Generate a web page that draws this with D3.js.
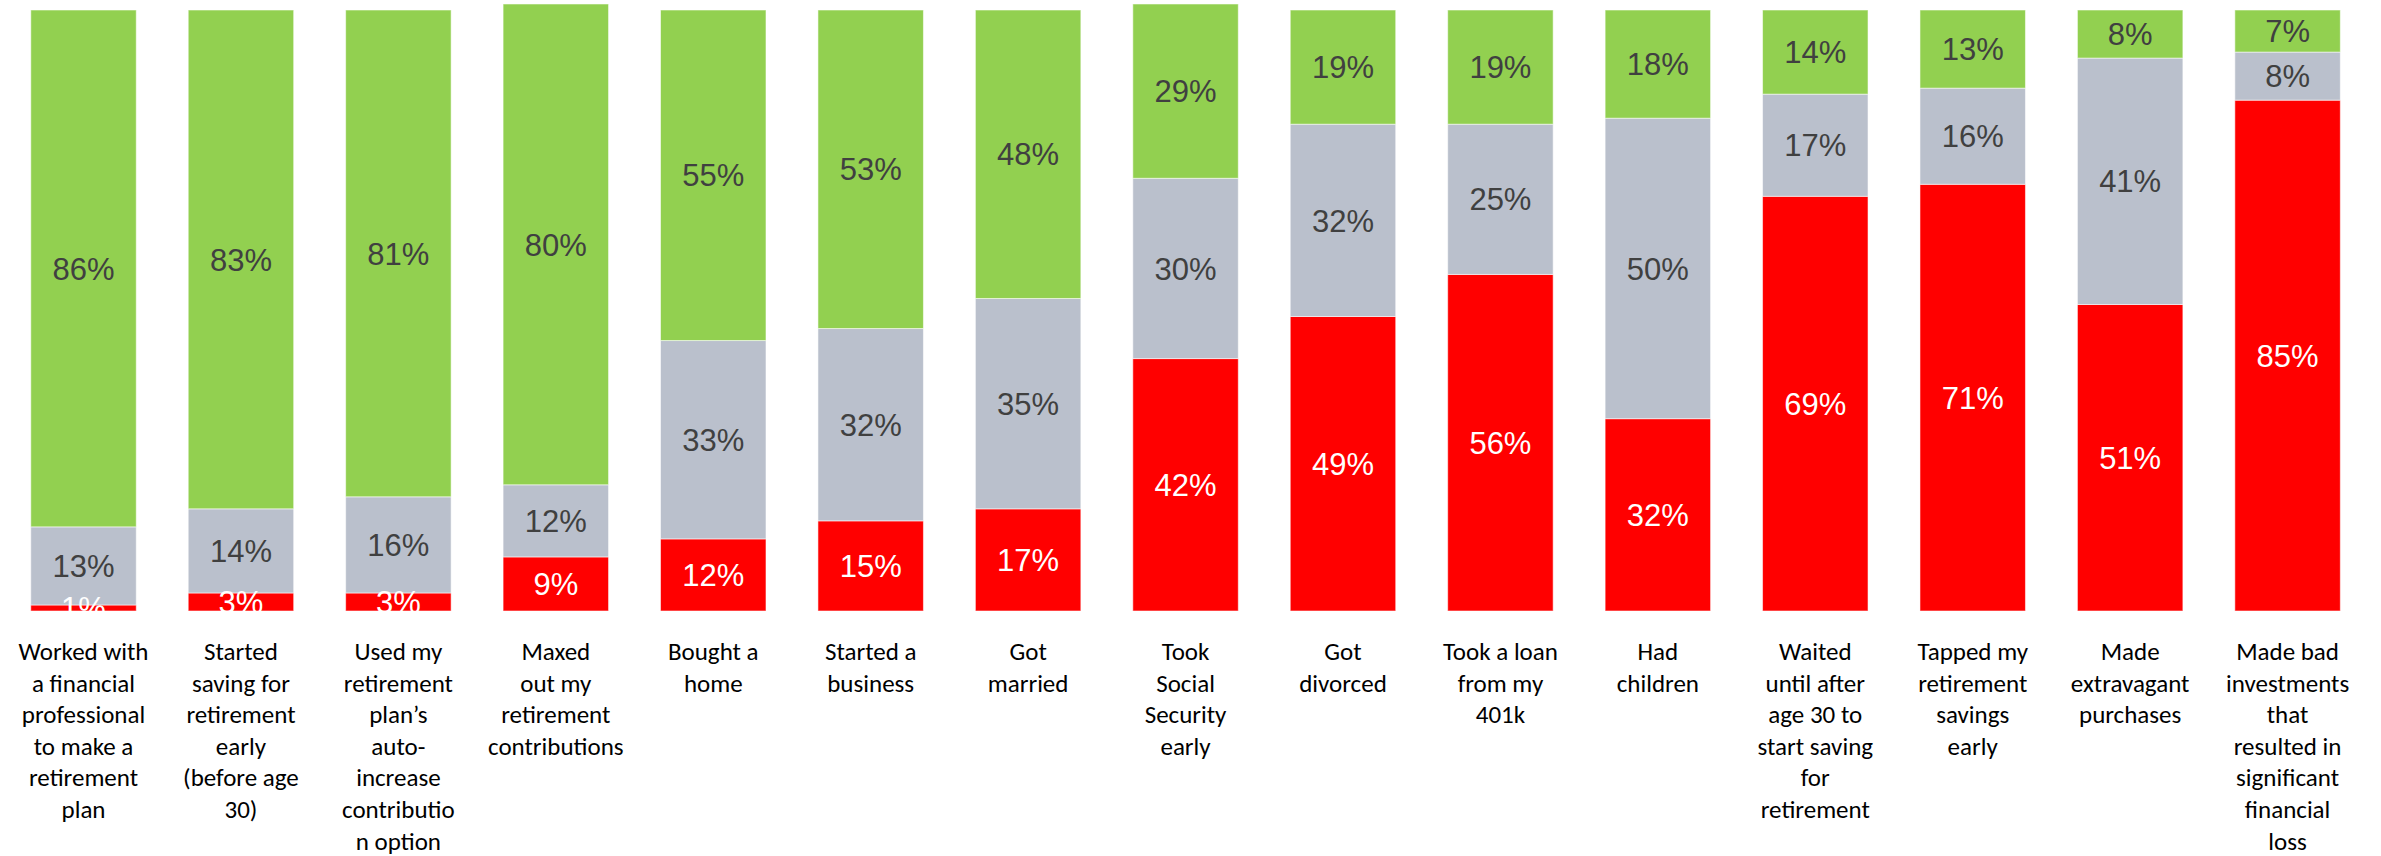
<!DOCTYPE html>
<html>
<head>
<meta charset="utf-8">
<script src="https://cdn.jsdelivr.net/npm/d3@7"></script>
<style>
  html, body { margin: 0; padding: 0; background: #fff; }
  svg { display: block; }
</style>
</head>
<body>
<svg id="chart" width="2381" height="856"></svg>
<script>
const categories = [
  "Worked with\na financial\nprofessional\nto make a\nretirement\nplan",
  "Started\nsaving for\nretirement\nearly\n(before age\n30)",
  "Used my\nretirement\nplan\u2019s\nauto-\nincrease\ncontributio\nn option",
  "Maxed\nout my\nretirement\ncontributions",
  "Bought a\nhome",
  "Started a\nbusiness",
  "Got\nmarried",
  "Took\nSocial\nSecurity\nearly",
  "Got\ndivorced",
  "Took a loan\nfrom my\n401k",
  "Had\nchildren",
  "Waited\nuntil after\nage 30 to\nstart saving\nfor\nretirement",
  "Tapped my\nretirement\nsavings\nearly",
  "Made\nextravagant\npurchases",
  "Made bad\ninvestments\nthat\nresulted in\nsignificant\nfinancial\nloss"
];
const hurt    = [1, 3, 3, 9, 12, 15, 17, 42, 49, 56, 32, 69, 71, 51, 85];
const neutral = [13, 14, 16, 12, 33, 32, 35, 30, 32, 25, 50, 17, 16, 41, 8];
const helped  = [86, 83, 81, 80, 55, 53, 48, 29, 19, 19, 18, 14, 13, 8, 7];
const seriesKeys = ["hurt", "neutral", "helped"];
const colors = { hurt: "#FF0000", neutral: "#BAC0CC", helped: "#92D050" };
const labelColors = { hurt: "#FFFFFF", neutral: "#404040", helped: "#404040" };

const rows = categories.map((c, i) => ({ cat: c, hurt: hurt[i], neutral: neutral[i], helped: helped[i] }));

const svg = d3.select("#chart");
const plotBottom = 611, plotTop = 10;

const x = d3.scaleBand()
  .domain(categories)
  .range([4.8, 2366.3])
  .paddingInner(0.33)
  .paddingOuter(0.165);

const y = d3.scaleLinear().domain([0, 100]).range([plotBottom, plotTop]);

const stack = d3.stack().keys(seriesKeys);
const series = stack(rows);

svg.append("defs").append("clipPath").attr("id", "plotClip")
  .append("rect").attr("x", 0).attr("y", 0).attr("width", 2381).attr("height", plotBottom);

const g = svg.append("g").attr("clip-path", "url(#plotClip)");

const layers = g.selectAll("g.layer").data(series).join("g").attr("class", "layer");

layers.selectAll("rect")
  .data(d => d.map(p => ({ key: d.key, p })))
  .join("rect")
  .attr("x", d => x(d.p.data.cat))
  .attr("width", x.bandwidth())
  .attr("y", d => y(d.p[1]))
  .attr("height", d => y(d.p[0]) - y(d.p[1]))
  .attr("fill", d => colors[d.key])
  .attr("stroke", "rgba(255,255,255,0.55)")
  .attr("stroke-width", 1);

const labelLayer = g.append("g");
series.forEach(s => {
  labelLayer.selectAll(null)
    .data(s)
    .join("text")
    .attr("x", p => x(p.data.cat) + x.bandwidth() / 2)
    .attr("y", p => (y(p[0]) + y(p[1])) / 2)
    .attr("dy", "0.36em")
    .attr("text-anchor", "middle")
    .attr("font-family", "'Liberation Sans', Arial, sans-serif")
    .attr("font-size", 31)
    .attr("fill", labelColors[s.key])
    .text(p => (p[1] - p[0]) + "%");
});

// category axis labels
const axisG = svg.append("g");
const lineH = 31.6;
axisG.selectAll("text.cat")
  .data(categories)
  .join("text")
  .attr("class", "cat")
  .attr("x", d => x(d) + x.bandwidth() / 2)
  .attr("y", 660)
  .attr("text-anchor", "middle")
  .attr("font-family", "Carlito, Calibri, Lato, sans-serif")
  .attr("font-size", 25)
  .attr("fill", "#000")
  .each(function(d) {
    const t = d3.select(this);
    d.split("\n").forEach((line, i) => {
      t.append("tspan")
        .attr("x", x(d) + x.bandwidth() / 2)
        .attr("dy", i === 0 ? 0 : lineH)
        .text(line);
    });
  });
</script>
</body>
</html>
